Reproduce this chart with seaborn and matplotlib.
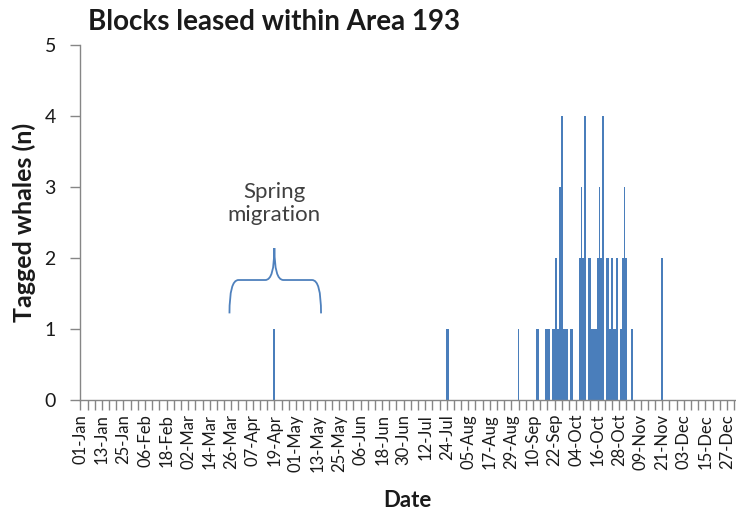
import numpy as np
import pandas as pd
import matplotlib
matplotlib.use("Agg")
import matplotlib.pyplot as plt
from matplotlib.path import Path
from matplotlib.patches import PathPatch
import seaborn as sns

# days with at least one tagged whale inside the leased blocks
event_dates = [
    "19-Apr", "24-Jul", "25-Jul", "02-Sep", "12-Sep", "13-Sep",
    "17-Sep", "18-Sep", "19-Sep", "21-Sep", "22-Sep", "23-Sep", "24-Sep",
    "25-Sep", "26-Sep", "27-Sep", "28-Sep", "29-Sep", "01-Oct", "02-Oct",
    "06-Oct", "07-Oct", "08-Oct", "09-Oct", "11-Oct", "12-Oct", "13-Oct",
    "14-Oct", "15-Oct", "16-Oct", "17-Oct", "18-Oct", "19-Oct", "21-Oct",
    "22-Oct", "23-Oct", "24-Oct", "25-Oct", "26-Oct", "27-Oct", "29-Oct",
    "30-Oct", "31-Oct", "01-Nov", "04-Nov", "21-Nov",
]
whale_counts = [
    1, 1, 1, 1, 1, 1,
    1, 1, 1, 1, 1, 2, 1,
    3, 4, 1, 1, 1, 1, 1,
    2, 3, 2, 4, 2, 2, 1,
    1, 1, 2, 3, 2, 4, 2,
    2, 1, 2, 1, 1, 2, 1,
    2, 3, 2, 1, 2,
]

tick_labels = [
    "01-Jan", "13-Jan", "25-Jan", "06-Feb", "18-Feb", "02-Mar", "14-Mar",
    "26-Mar", "07-Apr", "19-Apr", "01-May", "13-May", "25-May", "06-Jun",
    "18-Jun", "30-Jun", "12-Jul", "24-Jul", "05-Aug", "17-Aug", "29-Aug",
    "10-Sep", "22-Sep", "04-Oct", "16-Oct", "28-Oct", "09-Nov", "21-Nov",
    "03-Dec", "15-Dec", "27-Dec",
]

BAR_COLOR = "#4A7EBB"
AXIS_COLOR = "#868686"
TEXT_COLOR = "#1a1a1a"

# full daily series for a (non-leap) year, zero on days without whales
doy = pd.to_datetime([d + "-2013" for d in event_dates], format="%d-%b-%Y").dayofyear
counts = pd.Series(whale_counts, index=doy)
daily = pd.DataFrame({"day": np.arange(1, 366)})
daily["whales"] = daily["day"].map(counts).fillna(0)

sns.set_theme(style="white")
plt.rcParams["font.family"] = ["Lato", "DejaVu Sans"]

W, H = 736, 518
fig = plt.figure(figsize=(W / 100, H / 100), dpi=100)
ax = fig.add_axes([79.5 / W, 1 - 400 / H, (735 - 79.5) / W, (400 - 45) / H])

sns.barplot(data=daily, x="day", y="whales", color=BAR_COLOR, saturation=1,
            width=1.0, linewidth=0, errorbar=None, ax=ax)

ax.set_xlim(-0.5, 364.5)
ax.set_ylim(0, 5)
ax.set_yticks(range(0, 6))
ax.set_xticks(range(0, 365, 12))
ax.set_xticklabels(tick_labels, rotation=90, fontsize=12, color=TEXT_COLOR)
ax.set_xticks(range(0, 365, 4), minor=True)
ax.tick_params(axis="y", labelsize=14, colors=AXIS_COLOR, labelcolor=TEXT_COLOR,
               direction="out", length=7, width=1, left=True, pad=10)
ax.tick_params(axis="x", which="both", colors=AXIS_COLOR, labelcolor=TEXT_COLOR,
               direction="out", length=7, width=1, bottom=True, pad=3)

for side in ["top", "right"]:
    ax.spines[side].set_visible(False)
for side in ["left", "bottom"]:
    ax.spines[side].set_color(AXIS_COLOR)
    ax.spines[side].set_linewidth(1)

ax.set_xlabel("Date", fontsize=16, fontweight="bold", color=TEXT_COLOR, labelpad=13)
ax.set_ylabel("Tagged whales (n)", fontsize=18, fontweight="bold", color=TEXT_COLOR, labelpad=6)

fig.text(88 / W, 1 - 22 / H, "Blocks leased within Area 193", fontsize=20,
         fontweight="bold", color=TEXT_COLOR, ha="left", va="center")

# spring migration annotation with a curly brace
ax.text(108, 2.77, "Spring\nmigration", ha="center", va="center", fontsize=16,
        color="#404040", linespacing=1.2)
brace = Path(
    [(83, 1.22), (83, 1.69), (88, 1.69), (103, 1.69), (108, 1.69), (108, 2.14),
     (108, 1.69), (113, 1.69), (129, 1.69), (134, 1.69), (134, 1.22)],
    [Path.MOVETO, Path.CURVE3, Path.CURVE3, Path.LINETO, Path.CURVE3, Path.CURVE3,
     Path.CURVE3, Path.CURVE3, Path.LINETO, Path.CURVE3, Path.CURVE3],
)
ax.add_patch(PathPatch(brace, facecolor="none", edgecolor="#4F81BD", linewidth=1.3))

fig.savefig("out.png", dpi=100)
